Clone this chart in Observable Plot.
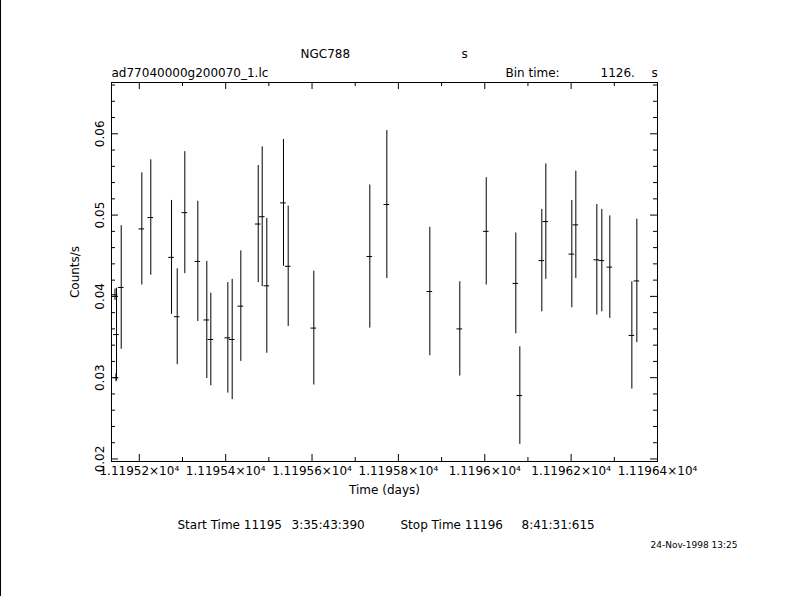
<!DOCTYPE html>
<html>
<head>
<meta charset="utf-8">
<script src="https://cdn.jsdelivr.net/npm/d3@7"></script>
<script src="https://cdn.jsdelivr.net/npm/@observablehq/plot@0.6"></script>
<style>
html, body { margin: 0; padding: 0; background: #fff; }
#wrap { position: relative; width: 790px; height: 596px; }
#edge { position: absolute; left: 0; top: 0; width: 1px; height: 596px; background: #000; }
</style>
</head>
<body>
<div id="wrap"><div id="edge"></div><div id="chart"></div></div>
<script>
// Light curve: time (days), count rate (counts/s), 1-sigma error
const time = [11195.1437, 11195.1460, 11195.1472, 11195.1581, 11195.2058, 11195.2266, 11195.2746, 11195.2878,
  11195.3054, 11195.3355, 11195.3563, 11195.3656, 11195.4050, 11195.4151, 11195.4351, 11195.4754,
  11195.4846, 11195.4953, 11195.5339, 11195.5448, 11195.6041, 11195.7338, 11195.7732, 11195.8728,
  11195.9422, 11196.0034, 11196.0719, 11196.0812, 11196.1321, 11196.1414, 11196.2016, 11196.2109,
  11196.2595, 11196.2711, 11196.2896, 11196.3406, 11196.3522];
const rate = [0.0402, 0.0300, 0.0353, 0.0411, 0.0483, 0.0497, 0.0448, 0.0375,
  0.0503, 0.0443, 0.0371, 0.0347, 0.0349, 0.0347, 0.0388, 0.0489,
  0.0498, 0.0413, 0.0515, 0.0437, 0.0361, 0.0449, 0.0513, 0.0406,
  0.0360, 0.0480, 0.0416, 0.0278, 0.0444, 0.0492, 0.0452, 0.0488,
  0.0445, 0.0444, 0.0436, 0.0352, 0.0419];
const rateError = [0.0007, 0.0005, 0.0057, 0.0076, 0.0069, 0.0071, 0.0070, 0.0059,
  0.0075, 0.0074, 0.0072, 0.0057, 0.0068, 0.0074, 0.0068, 0.0072,
  0.0086, 0.0083, 0.0078, 0.0074, 0.0070, 0.0088, 0.0091, 0.0079,
  0.0058, 0.0066, 0.0062, 0.0060, 0.0063, 0.0071, 0.0066, 0.0066,
  0.0068, 0.0063, 0.0063, 0.0066, 0.0076];
const binTimeSec = 1126;
const xMajorTicks = [11195.2, 11195.4, 11195.6, 11195.8, 11196.0, 11196.2, 11196.4];
const xMinorTicks = [11195.3, 11195.5, 11195.7, 11195.9, 11196.1, 11196.3];
const xTickLabels = ["1.11952×10⁴", "1.11954×10⁴", "1.11956×10⁴", "1.11958×10⁴", "1.1196×10⁴", "1.11962×10⁴", "1.11964×10⁴"];
const yMajorTicks = [0.02, 0.03, 0.04, 0.05, 0.06];
const yMinorTicks = [0.022, 0.024, 0.026, 0.028, 0.032, 0.034, 0.036, 0.038, 0.042, 0.044, 0.046, 0.048,
  0.052, 0.054, 0.056, 0.058, 0.062, 0.064, 0.066];
const yTickLabels = ["0.02", "0.03", "0.04", "0.05", "0.06"];

const W = 790, H = 596, mL = 111, mR = 133, mT = 82, mB = 135;
const innerW = W - mL - mR, innerH = H - mT - mB;

const halfBin = binTimeSec / 2 / 86400;
const rows = time.map((t, i) => ({t, r: rate[i], e: rateError[i]}));
const xTickRows = xMajorTicks.map((v, i) => ({v, label: xTickLabels[i]}));
const yTickRows = yMajorTicks.map((v, i) => ({v, label: yTickLabels[i]}));

const font = "DejaVu Sans, sans-serif";
const txt = (s, o) => Plot.text([s], {text: d => d, fill: "black", stroke: null, ...o});
const line = {stroke: "black", strokeWidth: 1};
const tickLine = {stroke: "black", strokeWidth: 1};

// inward tick marks: full-frame rules trimmed by insets to the tick length
const xTick = (vals, side, len) => Plot.ruleX(vals, {x: d => d, ...tickLine,
  ...(side === "bottom" ? {insetTop: innerH - len} : {insetBottom: innerH - len})});
const yTick = (vals, side, len) => Plot.ruleY(vals, {y: d => d, ...tickLine,
  ...(side === "left" ? {insetRight: innerW - len} : {insetLeft: innerW - len})});

const chart = Plot.plot({
  width: W,
  height: H,
  marginLeft: mL,
  marginRight: mR,
  marginTop: mT,
  marginBottom: mB,
  x: {domain: [11195.1356, 11196.4], axis: null},
  y: {domain: [0.01969, 0.06631], axis: null},
  style: {fontFamily: font, fontSize: "12px", background: "white", color: "black"},
  marks: [
    Plot.frame({stroke: "black"}),
    xTick(xMajorTicks, "bottom", 7),
    xTick(xMinorTicks, "bottom", 4),
    xTick(xMajorTicks, "top", 7),
    xTick(xMinorTicks, "top", 4),
    yTick(yMajorTicks, "left", 7),
    yTick(yMinorTicks, "left", 4),
    yTick(yMajorTicks, "right", 7),
    yTick(yMinorTicks, "right", 4),
    // tick labels
    Plot.text(xTickRows, {x: "v", text: "label", frameAnchor: "bottom", dy: 5, lineAnchor: "top", fill: "black"}),
    Plot.text(yTickRows, {y: "v", text: "label", frameAnchor: "left", dx: -11, rotate: -90, textAnchor: "middle", lineAnchor: "middle", fill: "black"}),
    // error bars
    Plot.ruleX(rows, {x: "t", y1: d => d.r - d.e, y2: d => d.r + d.e, ...line}),
    Plot.ruleY(rows, {y: "r", x1: d => d.t - halfBin, x2: d => d.t + halfBin, ...line}),
    // axis titles
    txt("Counts/s", {frameAnchor: "left", dx: -36, rotate: -90, textAnchor: "middle", lineAnchor: "middle"}),
    txt("Time (days)", {frameAnchor: "bottom", dy: 29, textAnchor: "middle", lineAnchor: "middle"}),
    // header
    txt("NGC788", {frameAnchor: "top-left", dx: 189, dy: -28, textAnchor: "start", lineAnchor: "middle"}),
    txt("s", {frameAnchor: "top-left", dx: 350, dy: -28, textAnchor: "start", lineAnchor: "middle"}),
    txt("ad77040000g200070_1.lc", {frameAnchor: "top-left", dx: 0, dy: -9, textAnchor: "start", lineAnchor: "middle"}),
    txt("Bin time:", {frameAnchor: "top-left", dx: 394, dy: -9, textAnchor: "start", lineAnchor: "middle", letterSpacing: "0.8px"}),
    txt("1126.", {frameAnchor: "top-left", dx: 489, dy: -9, textAnchor: "start", lineAnchor: "middle"}),
    txt("s", {frameAnchor: "top-left", dx: 540, dy: -9, textAnchor: "start", lineAnchor: "middle"}),
    // footer
    txt("Start Time 11195", {frameAnchor: "bottom-left", dx: 66, dy: 64, textAnchor: "start", lineAnchor: "middle"}),
    txt("3:35:43:390", {frameAnchor: "bottom-left", dx: 180, dy: 64, textAnchor: "start", lineAnchor: "middle"}),
    txt("Stop Time 11196", {frameAnchor: "bottom-left", dx: 289, dy: 64, textAnchor: "start", lineAnchor: "middle"}),
    txt("8:41:31:615", {frameAnchor: "bottom-left", dx: 410, dy: 64, textAnchor: "start", lineAnchor: "middle"}),
    txt("24-Nov-1998 13:25", {frameAnchor: "bottom-left", dx: 539, dy: 84, textAnchor: "start", lineAnchor: "middle", fontSize: 9})
  ]
});
document.getElementById("chart").appendChild(chart);
</script>
</body>
</html>
